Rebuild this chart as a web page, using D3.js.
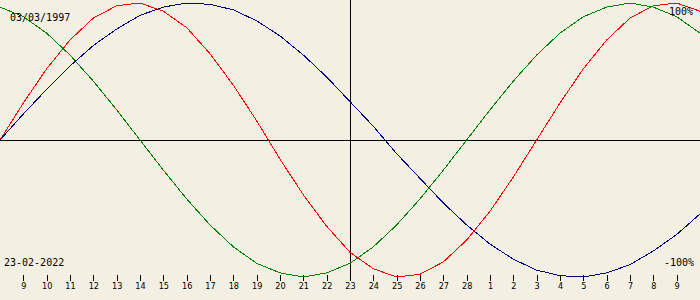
<!DOCTYPE html>
<html>
<head>
<meta charset="utf-8">
<script src="https://cdn.jsdelivr.net/npm/d3@7"></script>
<style>
  body { margin: 0; background: #f3efe3; }
  svg { display: block; }
</style>
</head>
<body>
<div id="graph"></div>
<script>
// chart size
const width = 700, height = 300;

// day offsets around the selected date (23-02-2022), Feb 8 .. Mar 10
const days = d3.range(-15, 16);

// tick labels for offsets -14 .. 14 (Feb 9 .. Mar 9)
const tickLabels = ["9","10","11","12","13","14","15","16","17","18","19","20","21","22",
  "23","24","25","26","27","28","1","2","3","4","5","6","7","8","9"];

// series values, one per day
const physical = [0, 0.27, 0.52, 0.73, 0.89, 0.98, 1.00, 0.94, 0.82, 0.63, 0.40, 0.14,
  -0.14, -0.40, -0.63, -0.82, -0.94, -1.00, -0.98, -0.89, -0.73, -0.52, -0.27,
  0, 0.27, 0.52, 0.73, 0.89, 0.98, 1.00, 0.94];
const emotional = [0.97, 0.90, 0.78, 0.62, 0.43, 0.22, 0, -0.22, -0.43, -0.62, -0.78,
  -0.90, -0.97, -1.00, -0.97, -0.90, -0.78, -0.62, -0.43, -0.22,
  0, 0.22, 0.43, 0.62, 0.78, 0.90, 0.97, 1.00, 0.97, 0.90, 0.78];
const intellectual = [0, 0.19, 0.37, 0.54, 0.69, 0.81, 0.91, 0.97, 1.00, 0.99, 0.95,
  0.87, 0.76, 0.62, 0.46, 0.28, 0.10, -0.10, -0.28, -0.46, -0.62, -0.76, -0.87,
  -0.95, -0.99, -1.00, -0.97, -0.91, -0.81, -0.69, -0.54];

const birthLabel = "03/03/1997";
const dateLabel = "23-02-2022";

const svg = d3.select("#graph")
  .append("svg")
  .attr("width", width)
  .attr("height", height)
  .style("background", "#f3efe3");

const x = d3.scaleLinear().domain([-15, 15]).range([0, width]);
const y = d3.scaleLinear().domain([-1, 1]).range([277, 3]);

// zero line and the centre (today) line
svg.append("line")
  .attr("x1", 0).attr("x2", width)
  .attr("y1", Math.round(y(0)) + 0.5).attr("y2", Math.round(y(0)) + 0.5)
  .attr("stroke", "#000").attr("shape-rendering", "crispEdges");
svg.append("line")
  .attr("x1", x(0) + 0.5).attr("x2", x(0) + 0.5)
  .attr("y1", 0).attr("y2", 276)
  .attr("stroke", "#000").attr("shape-rendering", "crispEdges");

// day axis
const axis = d3.axisBottom(x)
  .tickValues(d3.range(-14, 15))
  .tickFormat((d, i) => tickLabels[i])
  .tickSize(6)
  .tickPadding(2);

const gx = svg.append("g")
  .attr("transform", "translate(0,275)")
  .call(axis);
gx.select(".domain").remove();
gx.selectAll("line").attr("stroke", "#000").attr("shape-rendering", "crispEdges");
gx.selectAll("text")
  .attr("fill", "#000")
  .style("font-family", "'Liberation Sans Narrow', 'DejaVu Sans Condensed', sans-serif")
  .style("font-size", "9px");

// curves
const line = d3.line()
  .x((d, i) => x(days[i]))
  .y(d => y(d));

const series = [
  {values: physical, color: "#ff0000"},
  {values: emotional, color: "#008000"},
  {values: intellectual, color: "#000080"}
];

svg.selectAll("path.curve")
  .data(series)
  .join("path")
  .attr("class", "curve")
  .attr("d", d => line(d.values))
  .attr("fill", "none")
  .attr("stroke", d => d.color)
  .attr("stroke-width", 1)
  .attr("shape-rendering", "crispEdges");

// labels
const label = (tx, ty, anchor, t) => svg.append("text")
  .attr("x", tx).attr("y", ty)
  .attr("text-anchor", anchor)
  .style("font-family", "'DejaVu Sans Mono', monospace")
  .style("font-size", "10px")
  .attr("fill", "#000")
  .text(t);

label(10, 21, "start", birthLabel);
label(4, 266, "start", dateLabel);
label(693, 15, "end", "100%");
label(694, 266, "end", "-100%");
</script>
</body>
</html>
